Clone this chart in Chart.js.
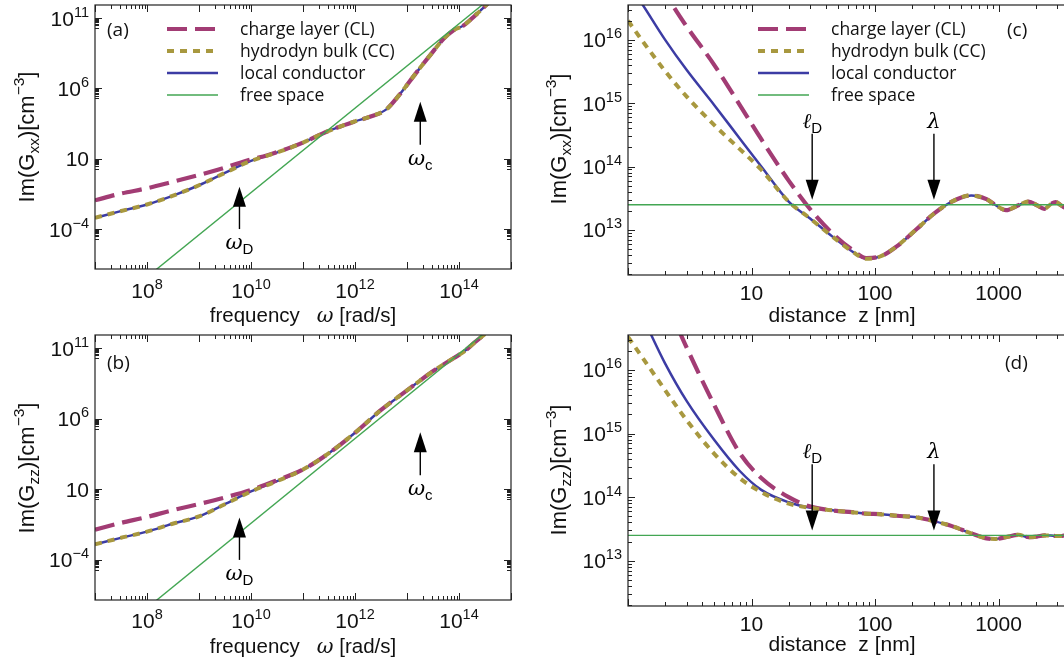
<!DOCTYPE html>
<html>
<head>
<meta charset="utf-8">
<script src="https://cdn.jsdelivr.net/npm/chart.js@4.4.1/dist/chart.umd.min.js"></script>
<style>
html, body { margin: 0; padding: 0; background: #fff; width: 1064px; height: 664px; overflow: hidden; }
canvas { position: absolute; }
</style>
</head>
<body>
<canvas id="pa" width="530" height="330" style="left:0;top:0"></canvas>
<canvas id="pb" width="530" height="334" style="left:0;top:330px"></canvas>
<canvas id="pc" width="600" height="330" style="left:530px;top:0"></canvas>
<canvas id="pd" width="600" height="334" style="left:530px;top:330px"></canvas>
<script>
// ---- data ----
const seriesNames = ['charge layer (CL)', 'hydrodyn bulk (CC)', 'local conductor', 'free space'];

// (a) Im(Gxx) vs frequency
const freqA  = [1e7, 3e7, 1e8, 3e8, 1e9, 3e9, 1e10, 2e10, 5e10, 1e11, 3e11, 1e12, 2e12, 4e12, 7e12, 1.5e13, 3e13, 5e13, 8e13, 1.2e14, 2e14, 4e14];
const localA = [6.3e-4, 1.8e-3, 5.6e-3, 2.2e-2, 0.13, 0.9, 7, 16, 50, 140, 890, 4500, 1e4, 3.2e4, 3.2e5, 1.26e7, 3.2e8, 3.2e9, 1.4e10, 2.8e10, 1.4e11, 1.6e12];
const bulkA  = [6.3e-4, 1.8e-3, 5.6e-3, 2.2e-2, 0.13, 0.9, 7, 16, 50, 140, 890, 4500, 1e4, 3.2e4, 3.2e5, 1.26e7, 3.2e8, 3.2e9, 1.4e10, 2.8e10, 1.4e11, 1.6e12];
const layerA = [1.1e-2, 3.2e-2, 7.9e-2, 0.22, 0.7, 2.2, 8.9, 17, 52, 140, 890, 4500, 1e4, 3.2e4, 3.2e5, 1.26e7, 3.2e8, 3.2e9, 1.4e10, 2.8e10, 1.4e11, 1.6e12];

// (b) Im(Gzz) vs frequency
const freqB  = [1e7, 3e7, 1e8, 3e8, 1e9, 3e9, 1e10, 3e10, 1e11, 3e11, 1e12, 3e12, 1e13, 3e13, 8e13, 1.25e14, 2e14, 4e14];
const localB = [1.26e-3, 3.5e-3, 1e-2, 3.5e-2, 0.12, 0.8, 7, 35, 250, 3200, 1e5, 3.5e6, 1e8, 2e9, 2e10, 5.6e10, 2.5e11, 2e12];
const bulkB  = [1.26e-3, 3.5e-3, 1e-2, 3.5e-2, 0.12, 0.8, 7, 35, 250, 3200, 1e5, 3.5e6, 1e8, 2e9, 2e10, 5.6e10, 2.5e11, 2e12];
const layerB = [1.4e-2, 4e-2, 0.11, 0.32, 0.9, 2.5, 9, 40, 250, 3200, 1e5, 3.5e6, 1e8, 2e9, 2e10, 5.6e10, 2.5e11, 2e12];

const freeFreq = [1e8, 1e15];
const freeFreqG = [3.9e-8, 3.9e13];

// (c), (d) vs distance
const dist = [1, 1.3, 2, 3, 5, 8, 12, 20, 30, 45, 65, 85, 110, 150, 220, 300, 420, 600, 800, 950, 1150, 1450, 1750, 2050, 2350, 2650, 2900, 3200, 3450, 3750, 4000];
const localC = [7.9e16, 3.7e16, 1e16, 3.3e15, 9.3e14, 2.8e14, 1e14, 2.8e13, 1.5e13, 7.9e12, 4.6e12, 3.5e12, 3.8e12, 5.5e12, 1.05e13, 1.8e13, 2.8e13, 3.5e13, 3.05e13, 2.45e13, 2.05e13, 2.45e13, 2.8e13, 2.45e13, 2.15e13, 2.55e13, 2.75e13, 2.45e13, 2.25e13, 2.5e13, 2.7e13];
const bulkC  = [2e16, 9.8e15, 3.2e15, 1.26e15, 4.5e14, 1.9e14, 8.9e13, 2.8e13, 1.5e13, 7.9e12, 4.6e12, 3.5e12, 3.8e12, 5.5e12, 1.05e13, 1.8e13, 2.8e13, 3.5e13, 3.05e13, 2.45e13, 2.05e13, 2.45e13, 2.8e13, 2.45e13, 2.15e13, 2.55e13, 2.75e13, 2.45e13, 2.25e13, 2.5e13, 2.7e13];
const layerC = [4e17, 1.6e17, 5.2e16, 1.6e16, 4e15, 9.5e14, 2.7e14, 6e13, 2.1e13, 8.9e12, 4.9e12, 3.6e12, 3.8e12, 5.5e12, 1.05e13, 1.8e13, 2.8e13, 3.5e13, 3.05e13, 2.45e13, 2.05e13, 2.45e13, 2.8e13, 2.45e13, 2.15e13, 2.55e13, 2.75e13, 2.45e13, 2.25e13, 2.5e13, 2.7e13];
const localD = [1.8e17, 7e16, 1.26e16, 3.2e15, 7.9e14, 2.6e14, 1.3e14, 8.3e13, 6.8e13, 6.2e13, 5.8e13, 5.5e13, 5.4e13, 5.1e13, 4.8e13, 4.2e13, 3.5e13, 2.7e13, 2.25e13, 2.2e13, 2.35e13, 2.55e13, 2.35e13, 2.4e13, 2.5e13, 2.5e13, 2.45e13, 2.45e13, 2.5e13, 2.5e13, 2.45e13];
const bulkD  = [3.3e16, 1.6e16, 4.8e15, 1.6e15, 4.8e14, 2e14, 1.2e14, 7.9e13, 6.8e13, 6.2e13, 5.8e13, 5.5e13, 5.4e13, 5.1e13, 4.8e13, 4.2e13, 3.5e13, 2.7e13, 2.25e13, 2.2e13, 2.35e13, 2.55e13, 2.35e13, 2.4e13, 2.5e13, 2.5e13, 2.45e13, 2.45e13, 2.5e13, 2.5e13, 2.45e13];
const layerD = [1.6e18, 6.3e17, 1.26e17, 2.2e16, 2.8e15, 5e14, 2e14, 1e14, 7.1e13, 6.2e13, 5.8e13, 5.5e13, 5.4e13, 5.1e13, 4.8e13, 4.2e13, 3.5e13, 2.7e13, 2.25e13, 2.2e13, 2.35e13, 2.55e13, 2.35e13, 2.4e13, 2.5e13, 2.5e13, 2.45e13, 2.45e13, 2.5e13, 2.5e13, 2.45e13];

const freeDist = [1, 1e4];
const freeDistG = [2.5e13, 2.5e13];

// ticks
const freqTicks = [1e8, 1e10, 1e12, 1e14];
const freqTickLabels = ['10^8', '10^10', '10^12', '10^14'];
const gFreqTicks = [1e-4, 10, 1e6, 1e11];
const gFreqTickLabels = ['10^-4', '10', '10^6', '10^11'];
const distTicks = [10, 100, 1000];
const distTickLabels = ['10', '100', '1000'];
const gDistTicks = [1e13, 1e14, 1e15, 1e16];
const gDistTickLabels = ['10^13', '10^14', '10^15', '10^16'];

// arrows: position, tail, tip
const freqMarkAt = [6e9, 1.8e13];
const freqMarkFrom = [1e-4, 100];
const freqMarkTo = [0.1, 1.1e5];
const freqMarkNames = [['\u03c9', 'D'], ['\u03c9', 'c']];
const distMarkAt = [31, 300];
const distMarkFrom = [3.3e14, 3.3e14];
const distMarkTo = [3e13, 3e13];
const distMarkNames = [['\u2113', 'D'], ['\u03bb', '']];

// ---- styling ----
const SANS = '"Liberation Sans", Arial, sans-serif';
const SERIF = '"DejaVu Serif", serif';
const LEG = '"Open Sans", Lato, sans-serif';
const STY = [
    { color: '#a23c74', width: 4.2, dash: [20, 8] },
    { color: '#a8983f', width: 4, dash: [7, 6] },
    { color: '#3c3ca4', width: 2.5, dash: [] },
    { color: '#43a653', width: 1.4, dash: [] }
];
const ORDER = [2, 1, 3, 0];

function ds(xs, ys, k) {
    return {
        label: seriesNames[k],
        data: xs.map((x, i) => ({ x: x, y: ys[i] })),
        borderColor: STY[k].color,
        borderWidth: STY[k].width,
        borderDash: STY[k].dash,
        pointRadius: 0,
        fill: false,
        cubicInterpolationMode: k == 3 ? 'default' : 'monotone',
        order: ORDER[k]
    };
}

function runs(ctx, parts, x, y, align) {
    let w = 0;
    parts.forEach(p => { ctx.font = p.font; p.w = ctx.measureText(p.t).width; w += p.w; });
    let cx = align == 'center' ? x - w / 2 : align == 'right' ? x - w : x;
    ctx.textAlign = 'left';
    ctx.textBaseline = 'alphabetic';
    parts.forEach(p => { ctx.font = p.font; ctx.fillText(p.t, cx, y + (p.dy || 0)); cx += p.w; });
}

function powParts(s) {
    const i = s.indexOf('^');
    const parts = [{ t: i < 0 ? s : s.slice(0, i), font: '21px ' + SANS }];
    if (i >= 0) parts.push({ t: s.slice(i + 1).replace('-', '\u2212'), font: '14.5px ' + SANS, dy: -9 });
    return parts;
}

function tickSet(min, max, labelled, everyDecade, minorAll) {
    const out = [];
    const lab = labelled.map(v => Math.round(Math.log10(v)));
    for (let k = Math.floor(Math.log10(min)); k <= Math.ceil(Math.log10(max)); k++) {
        const v = Math.pow(10, k);
        if ((everyDecade || lab.includes(k)) && v >= min && v <= max) out.push([v, 7]);
        if (minorAll || lab.includes(k + 1))
            for (let m = 2; m <= 9; m++) { const w = m * v; if (w > min && w < max) out.push([w, 4]); }
    }
    return out;
}

function seg(ctx, x1, y1, x2, y2) { ctx.beginPath(); ctx.moveTo(x1, y1); ctx.lineTo(x2, y2); ctx.stroke(); }

const look = {};

const gnuLook = {
    id: 'gnuLook',
    afterDraw(chart) {
        const L = look[chart.canvas.id];
        const ctx = chart.ctx, a = chart.chartArea, sx = chart.scales.x, sy = chart.scales.y;
        ctx.save();
        ctx.strokeStyle = '#222';
        ctx.lineWidth = 1;
        ctx.setLineDash([]);
        // inward ticks, mirrored
        tickSet(sx.min, sx.max, L.xTicks, L.xEvery, L.minorAll).forEach(([v, len]) => {
            const p = Math.round(sx.getPixelForValue(v)) + 0.5;
            seg(ctx, p, a.bottom, p, a.bottom - len);
            seg(ctx, p, a.top, p, a.top + len);
        });
        tickSet(sy.min, sy.max, L.yTicks, L.minorAll, L.minorAll).forEach(([v, len]) => {
            const p = Math.round(sy.getPixelForValue(v)) + 0.5;
            seg(ctx, a.left, p, a.left + len, p);
            seg(ctx, a.right, p, a.right - len, p);
        });
        ctx.lineWidth = 1.2;
        ctx.strokeRect(a.left, a.top, a.right - a.left, a.bottom - a.top);

        ctx.fillStyle = '#111';
        // tick labels
        L.xTicks.forEach((v, i) => runs(ctx, powParts(L.xLabels[i]), sx.getPixelForValue(v), a.bottom + L.xLabDy, 'center'));
        L.yTicks.forEach((v, i) => runs(ctx, powParts(L.yLabels[i]), a.left - 6, sy.getPixelForValue(v) + 7.5, 'right'));

        // axis titles
        runs(ctx, L.xTitle, L.xTitleX, L.xTitleY, 'center');
        ctx.save();
        ctx.translate(L.yTitleX, L.yTitleY);
        ctx.rotate(-Math.PI / 2);
        runs(ctx, [
            { t: 'Im(G', font: '22px ' + SANS },
            { t: L.sub, font: '15.5px ' + SANS, dy: 5 },
            { t: ')[cm', font: '22px ' + SANS },
            { t: '\u22123', font: '15.5px ' + SANS, dy: -10 },
            { t: ']', font: '22px ' + SANS }
        ], 0, 0, 'center');
        ctx.restore();

        // panel label
        runs(ctx, [{ t: L.panel, font: '19px ' + LEG }], L.panelX, L.panelY, 'left');

        // legend
        if (L.legendX) {
            chart.data.datasets.forEach((d, k) => {
                const y = 29 + 22 * k;
                ctx.strokeStyle = d.borderColor;
                ctx.lineWidth = d.borderWidth;
                ctx.setLineDash(d.borderDash);
                seg(ctx, L.legendX, y, L.legendX + 51, y);
                ctx.setLineDash([]);
                runs(ctx, [{ t: d.label, font: '17.5px ' + LEG }], L.legendX + 73, y + 6, 'left');
            });
        }

        // arrows
        ctx.strokeStyle = '#000';
        ctx.fillStyle = '#000';
        L.marks.at.forEach((v, i) => {
            const x = sx.getPixelForValue(v);
            const y0 = sy.getPixelForValue(L.marks.from[i]);
            const y1 = sy.getPixelForValue(L.marks.to[i]);
            const dir = y1 > y0 ? 1 : -1;
            ctx.lineWidth = 1.4;
            seg(ctx, x, y0, x, y1 - dir * 18);
            ctx.beginPath();
            ctx.moveTo(x, y1);
            ctx.lineTo(x - 6.5, y1 - dir * 20);
            ctx.lineTo(x + 6.5, y1 - dir * 20);
            ctx.closePath();
            ctx.fill();
            const nm = L.marks.names[i];
            const ly = dir > 0 ? y0 - 6 : y0 + 20;
            runs(ctx, [
                { t: nm[0], font: 'italic 21px ' + SERIF },
                { t: nm[1], font: '15px ' + SANS, dy: 5 }
            ], x, ly, 'center');
        });
        ctx.restore();
    }
};

function makeChart(id, sets, xr, yr, yw, xh, pad) {
    return new Chart(document.getElementById(id), {
        type: 'line',
        data: { datasets: sets },
        options: {
            responsive: false,
            animation: false,
            events: [],
            layout: { padding: pad },
            elements: { line: { capBezierPoints: false } },
            plugins: { legend: { display: false }, tooltip: { enabled: false } },
            scales: {
                x: {
                    type: 'logarithmic', min: xr[0], max: xr[1],
                    grid: { display: false, drawTicks: false }, border: { display: false },
                    ticks: { display: false },
                    afterFit(s) { s.height = xh; }
                },
                y: {
                    type: 'logarithmic', min: yr[0], max: yr[1],
                    grid: { display: false, drawTicks: false }, border: { display: false },
                    ticks: { display: false },
                    afterFit(s) { s.width = yw; }
                }
            }
        },
        plugins: [gnuLook]
    });
}

const freqTitle = [
    { t: 'frequency   ', font: '20.5px ' + SANS },
    { t: '\u03c9', font: 'italic 20.5px ' + SERIF },
    { t: ' [rad/s]', font: '20.5px ' + SANS }
];
const distTitle = [{ t: 'distance  z [nm]', font: '21px ' + SANS }];
const freqMarks = { at: freqMarkAt, from: freqMarkFrom, to: freqMarkTo, names: freqMarkNames };
const distMarks = { at: distMarkAt, from: distMarkFrom, to: distMarkTo, names: distMarkNames };

look.pa = { xTicks: freqTicks, xLabels: freqTickLabels, yTicks: gFreqTicks, yLabels: gFreqTickLabels, xEvery: true, minorAll: false,
    xLabDy: 29, xTitle: freqTitle, xTitleX: 303, xTitleY: 322, yTitleX: 34, yTitleY: 137, sub: 'xx',
    panel: '(a)', panelX: 107, panelY: 36, legendX: 167, marks: freqMarks };
look.pb = { xTicks: freqTicks, xLabels: freqTickLabels, yTicks: gFreqTicks, yLabels: gFreqTickLabels, xEvery: true, minorAll: false,
    xLabDy: 28, xTitle: freqTitle, xTitleX: 303, xTitleY: 323, yTitleX: 34, yTitleY: 138, sub: 'zz',
    panel: '(b)', panelX: 107, panelY: 39, legendX: 0, marks: freqMarks };
look.pc = { xTicks: distTicks, xLabels: distTickLabels, yTicks: gDistTicks, yLabels: gDistTickLabels, xEvery: true, minorAll: true,
    xLabDy: 25, xTitle: distTitle, xTitleX: 312, xTitleY: 322, yTitleX: 36, yTitleY: 139, sub: 'xx',
    panel: '(c)', panelX: 477, panelY: 36, legendX: 228, marks: distMarks };
look.pd = { xTicks: distTicks, xLabels: distTickLabels, yTicks: gDistTicks, yLabels: gDistTickLabels, xEvery: true, minorAll: true,
    xLabDy: 25, xTitle: distTitle, xTitleX: 312, xTitleY: 321, yTitleX: 36, yTitleY: 140, sub: 'zz',
    panel: '(d)', panelX: 475, panelY: 39, legendX: 0, marks: distMarks };

const freqRange = [1e7, 1e15];
const gFreqRange = [1.45e-7, 8.4e11];
const distRange = [1, 1e4];
const gDistRange = [1.94e12, 3.55e16];

makeChart('pa', [ds(freqA, layerA, 0), ds(freqA, bulkA, 1), ds(freqA, localA, 2), ds(freeFreq, freeFreqG, 3)],
    freqRange, gFreqRange, 95, 61, { left: 0, top: 5, right: 19, bottom: 0 });
makeChart('pb', [ds(freqB, layerB, 0), ds(freqB, bulkB, 1), ds(freqB, localB, 2), ds(freeFreq, freeFreqG, 3)],
    freqRange, gFreqRange, 95, 64, { left: 0, top: 5, right: 19, bottom: 0 });
makeChart('pc', [ds(dist, layerC, 0), ds(dist, bulkC, 1), ds(dist, localC, 2), ds(freeDist, freeDistG, 3)],
    distRange, gDistRange, 98, 55, { left: 0, top: 5, right: 8, bottom: 0 });
makeChart('pd', [ds(dist, layerD, 0), ds(dist, bulkD, 1), ds(dist, localD, 2), ds(freeDist, freeDistG, 3)],
    distRange, gDistRange, 98, 58, { left: 0, top: 5, right: 8, bottom: 0 });
</script>
</body>
</html>
